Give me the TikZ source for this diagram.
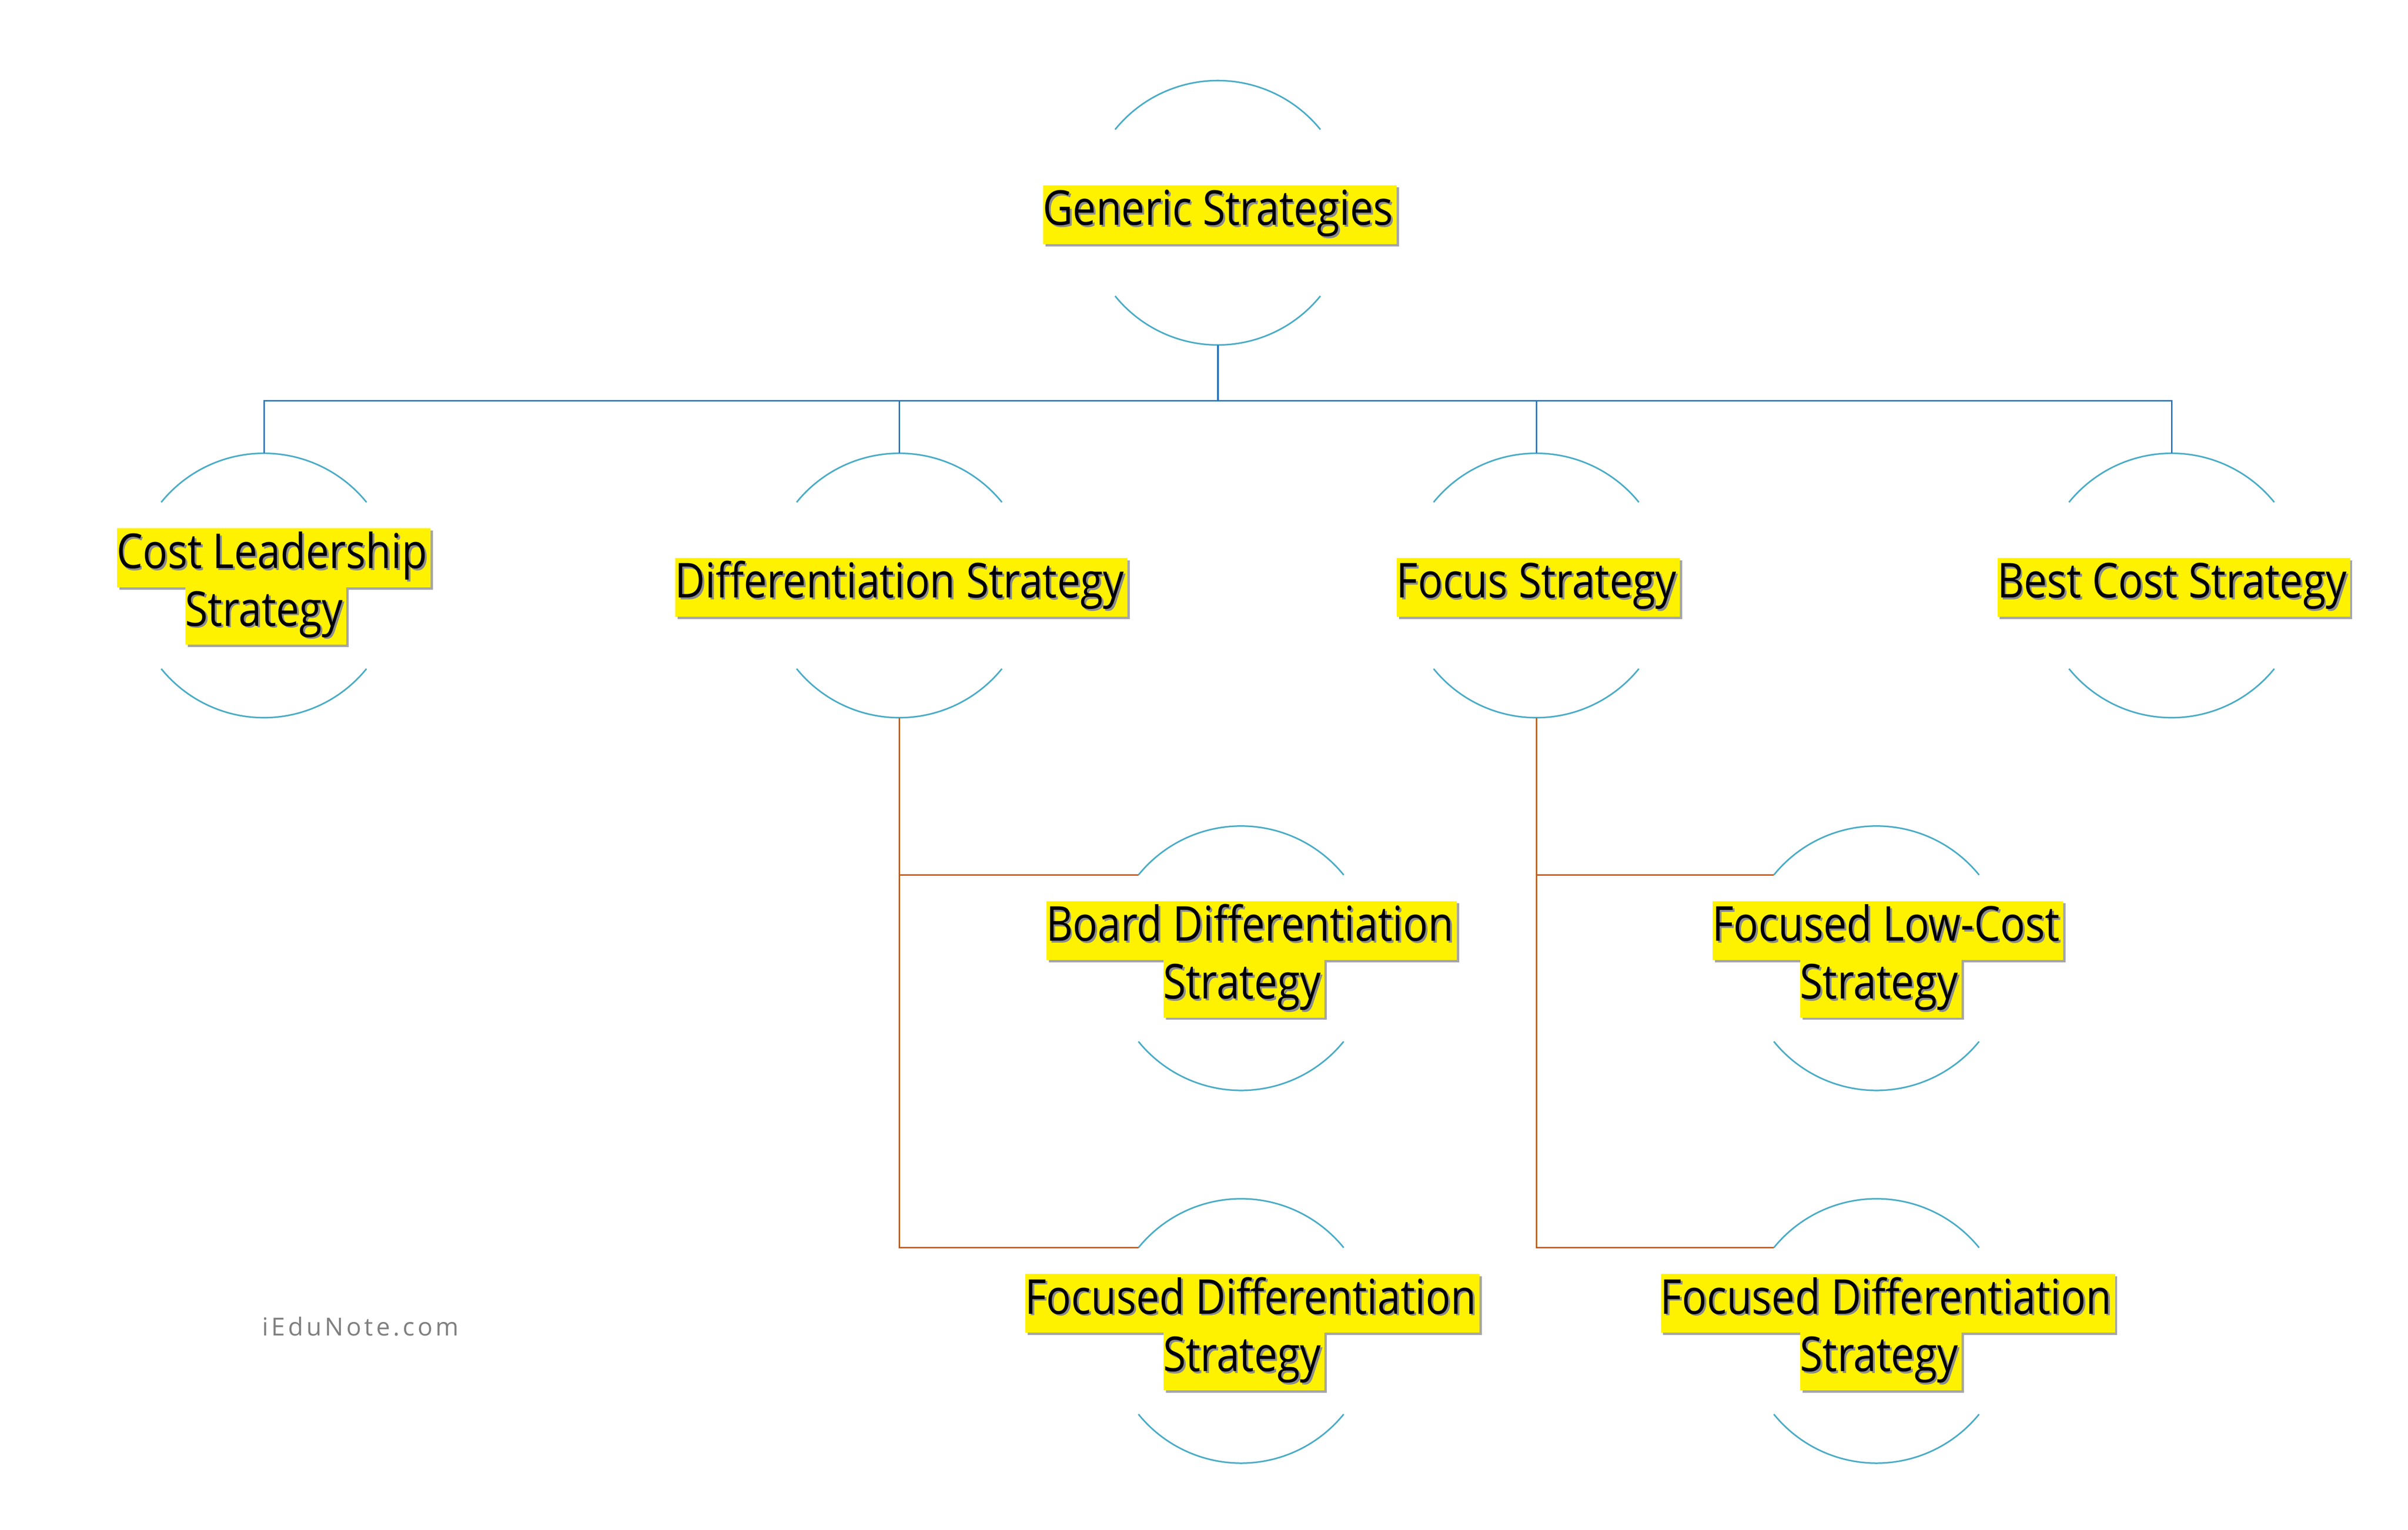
\documentclass[tikz,border=0pt]{standalone}
\usepackage{fontspec}
\setmainfont[FakeStretch=0.86]{Open Sans}
\newfontfamily\wmfont[LetterSpace=12]{Open Sans}
\usetikzlibrary{shadows}
\definecolor{arcblue}{RGB}{75,172,198}
\definecolor{lineblue}{RGB}{46,117,182}
\definecolor{orgline}{RGB}{197,90,17}
\tikzset{
  hub/.style={circle,minimum size=170pt,inner sep=0pt},
  hl/.style={fill=yellow,inner xsep=1pt,inner ysep=4pt,text height=23pt,text depth=7pt,
     font=\fontsize{31}{31}\selectfont,
     drop shadow={shadow xshift=1.5pt,shadow yshift=-1.5pt,fill=black!35,opacity=1}},
  arcline/.style={arcblue,line width=1pt},
  tree/.style={lineblue,line width=1pt},
  sub/.style={orgline,line width=1pt}
}
\newcommand\hltext[3]{%
  \node[hl,text=black!45,xshift=1.2pt,yshift=-1.2pt] at (#1,#2) {#3};
  \node[text=black,inner xsep=1pt,inner ysep=4pt,text height=23pt,text depth=7pt,font=\fontsize{31}{31}\selectfont] at (#1,#2) {#3};}
\newcommand\arcs[1]{%
  \draw[arcline] (#1.141) arc[start angle=141,end angle=39,radius=85pt];
  \draw[arcline] (#1.219) arc[start angle=219,end angle=321,radius=85pt];}
\begin{document}
\begin{tikzpicture}[x=1pt,y=-1pt]
\useasboundingbox (0,0) rectangle (1550,985);
% hubs
\node[hub] (root) at (784,137) {};
\node[hub] (c1) at (170,377) {};
\node[hub] (c2) at (579,377) {};
\node[hub] (c3) at (989,377) {};
\node[hub] (c4) at (1398,377) {};
\node[hub] (s1) at (799,617) {};
\node[hub] (s2) at (799,857) {};
\node[hub] (s3) at (1208,617) {};
\node[hub] (s4) at (1208,857) {};
\foreach \n in {root,c1,c2,c3,c4,s1,s2,s3,s4}{\arcs{\n}}
% connectors
\coordinate (bus) at (784,258);
\draw[tree] (root.south) -- (bus);
\draw[tree] (c1.north) |- (c4.north |- bus) -- (c4.north);
\draw[tree] (c2.north) -- (c2.north |- bus);
\draw[tree] (c3.north) -- (c3.north |- bus);
\draw[sub] (c2.south) |- (s1.141);
\draw[sub] (c2.south) |- (s2.141);
\draw[sub] (c3.south) |- (s3.141);
\draw[sub] (c3.south) |- (s4.141);
% labels
\hltext{784}{137}{Generic Strategies}
\hltext{175}{358}{Cost Leadership\ }
\hltext{170}{395}{Strategy}
\hltext{579}{377}{Differentiation Strategy}
\hltext{989}{377}{Focus Strategy}
\hltext{1398}{377}{Best Cost Strategy}
\hltext{804.5}{598}{Board Differentiation\ }
\hltext{799.5}{635}{Strategy}
\hltext{1214}{598}{Focused Low-Cost\ }
\hltext{1209.5}{635}{Strategy}
\hltext{805}{838}{Focused Differentiation\ }
\hltext{799.5}{875}{Strategy}
\hltext{1214}{838}{Focused Differentiation\ }
\hltext{1209.5}{875}{Strategy}
\node[text=black!50,font=\wmfont\fontsize{16}{16}\selectfont] (wm) at (232,854) {iEduNote.com};
\end{tikzpicture}
\end{document}
